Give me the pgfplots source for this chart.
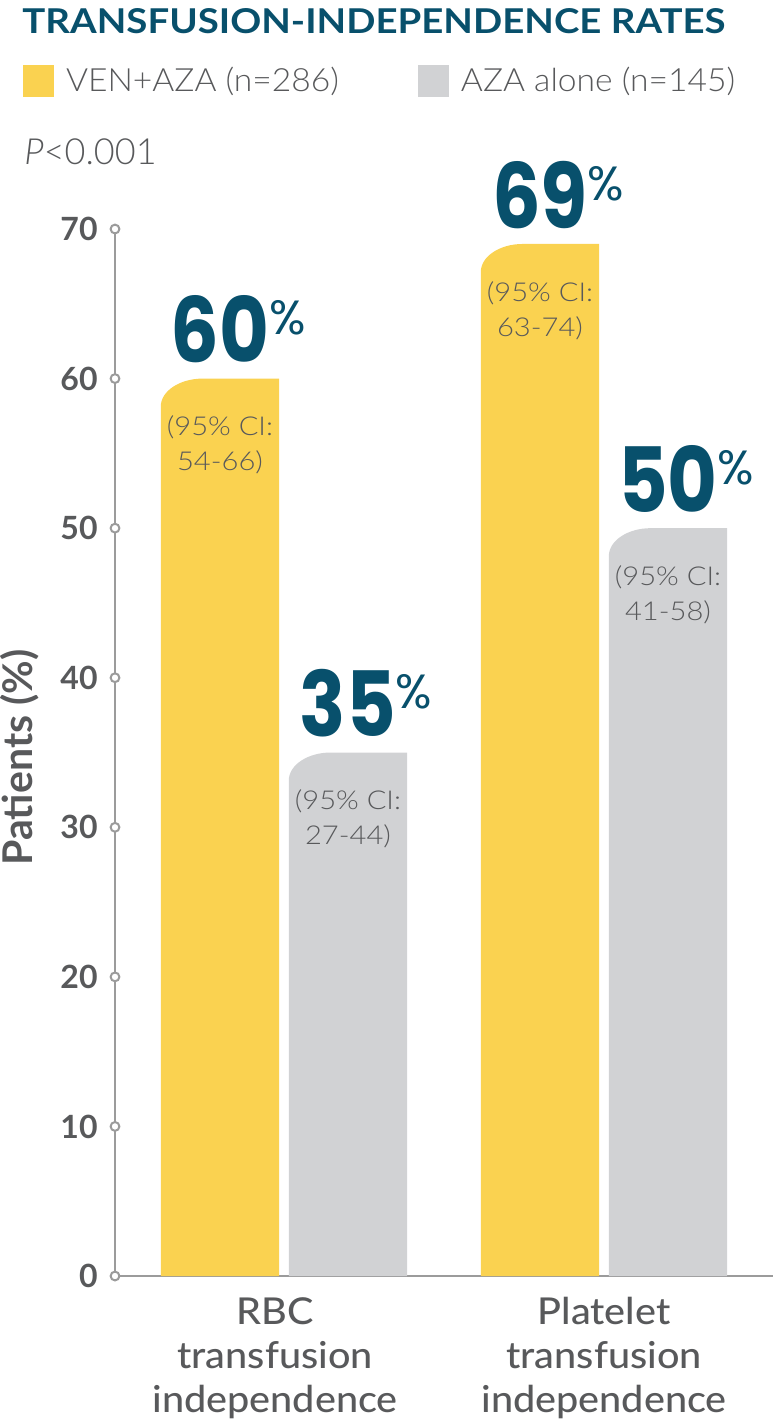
\documentclass[border=0pt]{standalone}
\usepackage{fontspec}
\usepackage{graphicx}
\usepackage{pgfplots}
\pgfplotsset{compat=1.18}
\setmainfont{Lato}
\newfontfamily\numfont{Poppins}
\IfFontExistsTF{Lato Light}{%
  \newfontfamily\lightfont{Lato Light}%
  \newfontfamily\cifont[FakeStretch=1.12]{Lato Light}%
  \newfontfamily\legfont[FakeStretch=1.05]{Lato Light}}{%
  \newfontfamily\lightfont{Lato}%
  \newfontfamily\cifont[FakeStretch=1.12]{Lato}%
  \newfontfamily\legfont[FakeStretch=1.05]{Lato}}
\IfFontExistsTF{Lato Medium}{\newfontfamily\catfont[FakeStretch=1.07]{Lato Medium}}{\newfontfamily\catfont[FakeStretch=1.12]{Lato}}

\definecolor{barYellow}{HTML}{FAD250}
\definecolor{barGray}{HTML}{D1D2D4}
\definecolor{tealDark}{HTML}{08506C}
\definecolor{textGray}{HTML}{58595B}
\definecolor{axisGray}{HTML}{9B9B9B}

% bar outline with a rounded top-left corner
\newdimen\rbxa \newdimen\rbya \newdimen\rbxb \newdimen\rbyb \newdimen\rbt
\newdimen\rbpx \newdimen\rbpy \newdimen\rbcx \newdimen\rbcy
\makeatletter
\def\roundedbarcorners#1#2{%
  \pgf@process{#1}\rbxa=\pgf@x \rbya=\pgf@y
  \pgf@process{#2}\rbxb=\pgf@x \rbyb=\pgf@y
  \ifdim\rbxa>\rbxb \rbt=\rbxa \rbxa=\rbxb \rbxb=\rbt \fi
  \ifdim\rbya>\rbyb \rbt=\rbya \rbya=\rbyb \rbyb=\rbt \fi
  \pgfpathmoveto{\pgfqpoint{\rbxa}{\rbya}}%
  \pgfpathlineto{\pgfqpoint{\rbxa}{\dimexpr\rbyb-14pt\relax}}%
  \pgfpathcurveto{\pgfqpoint{\rbxa}{\dimexpr\rbyb-6.27pt\relax}}%
                 {\pgfqpoint{\dimexpr\rbxa+9.4pt\relax}{\rbyb}}%
                 {\pgfqpoint{\dimexpr\rbxa+21pt\relax}{\rbyb}}%
  \pgfpathlineto{\pgfqpoint{\rbxb}{\rbyb}}%
  \pgfpathlineto{\pgfqpoint{\rbxb}{\rbya}}%
  \pgfpathclose}
\def\roundedbarrect#1#2{%
  \pgf@process{#1}\rbpx=\pgf@x \rbpy=\pgf@y
  \pgf@process{#2}\rbcx=\rbpx \rbcy=\rbpy
  \advance\rbcx by \pgf@x \advance\rbcy by \pgf@y
  \roundedbarcorners{\pgfqpoint{\rbpx}{\rbpy}}{\pgfqpoint{\rbcx}{\rbcy}}}
\makeatother

% one style for the coloured bars (big value on top), one for the CI text inside
\pgfplotsset{
  valbar/.style={ybar, bar width=0.37, bar shift=#1, draw=none,
    /utils/exec={\let\pgfpathrectangle\roundedbarrect},
    legend image code/.code={\fill[##1] (0pt,-8pt) -- (15.5pt,-8pt) -- (15.5pt,8pt) -- (0pt,8pt) -- cycle;},
    nodes near coords={\scalebox{0.85}[1]{\pgfmathprintnumber{\pgfplotspointmeta}}\rlap{\raisebox{14.1pt}{\mdseries\fontsize{24}{24}\selectfont\%}}},
    every node near coord/.append style={anchor=south, inner sep=0pt, yshift=7.5pt,
      xshift={#1*160pt}, text=tealDark, font=\numfont\bfseries\fontsize{45}{45}\selectfont}},
  cibar/.style={ybar, bar width=0.37, bar shift=#1, draw=none, fill=none, forget plot,
    point meta=explicit symbolic,
    nodes near coords={(95\% CI:\\\pgfplotspointmeta)},
    every node near coord/.append style={anchor=north, inner sep=0pt, yshift=-18.5pt,
      xshift={#1*160pt}, align=center, text=textGray, font=\cifont\fontsize{13}{17.5}\selectfont}},
}

\begin{document}
\begin{tikzpicture}
\path[use as bounding box] (0,0) rectangle (386.5pt,-711pt);
\begin{axis}[
  at={(57.5pt,-638pt)}, anchor=south west,
  scale only axis, width=329pt, height=523.5pt,
  xmin=-0.528, xmax=1.528, ymin=0, ymax=70,
  clip=false,
  axis x line*=bottom, axis y line*=left,
  axis line style={draw=axisGray, line width=1pt},
  ytick={0,10,...,70}, xtick={-0.028,1},
  xticklabels={{RBC\\transfusion\\independence},{Platelet\\transfusion\\independence}},
  major tick length=0pt,
  /pgf/number format/assume math mode=true,
  yticklabel style={anchor=east, inner sep=0pt, xshift=-8.5pt, text=textGray,
    font=\bfseries\fontsize{16}{16}\selectfont},
  xticklabel style={anchor=north, inner sep=0pt, yshift=-10.5pt, align=center,
    text=textGray, font=\catfont\fontsize{18.5}{22}\selectfont},
  ylabel={Patients (\%)},
  ylabel style={at={(axis description cs:-0.1444,0.4952)}, anchor=center, text=textGray,
    font=\bfseries\fontsize{20.5}{20.5}\selectfont},
  legend columns=2,
  legend cell align=left,
  legend style={at={(axis description cs:-0.1398,1.1585)}, anchor=north west,
    draw=none, fill=none, inner sep=0pt, outer sep=0pt, text=textGray,
    font=\legfont\fontsize{16}{16}\selectfont,
    /tikz/every odd column/.append style={column sep=4pt},
    /tikz/every even column/.append style={column sep=37.5pt}},
]
\addplot[valbar=-0.2, fill=barYellow] coordinates {(0,60) (1,69)};
\addplot[valbar=0.2, fill=barGray] coordinates {(0,35) (1,50)};
\addplot[cibar=-0.2] coordinates {(0,60) [54-66] (1,69) [63-74]};
\addplot[cibar=0.2] coordinates {(0,35) [27-44] (1,50) [41-58]};
% open circles on the y axis at each tick
\addplot[only marks, mark=*, mark size=2.2pt, forget plot,
  mark options={fill=white, draw=axisGray, line width=1pt}]
  coordinates {(-0.528,0) (-0.528,10) (-0.528,20) (-0.528,30)
               (-0.528,40) (-0.528,50) (-0.528,60) (-0.528,70)};
\legend{VEN+AZA (n=286), AZA alone (n=145)}
\end{axis}
\node[anchor=north west, inner sep=0pt, text=tealDark] at (11pt,-4pt)
  {\resizebox{351.5pt}{12.5pt}{\bfseries TRANSFUSION-INDEPENDENCE RATES}};
\node[anchor=base west, inner sep=0pt, text=textGray] at (12pt,-82.5pt)
  {\lightfont\fontsize{18}{18}\selectfont\textit{P}<0.001};
\end{tikzpicture}
\end{document}
